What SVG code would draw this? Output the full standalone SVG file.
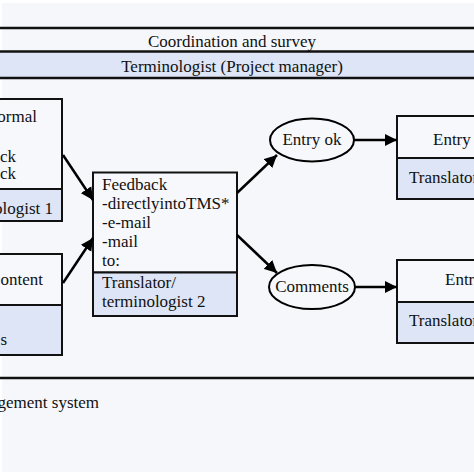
<svg xmlns="http://www.w3.org/2000/svg" width="474" height="474" viewBox="0 0 474 474">
<defs>
<style>
text{font-family:"Liberation Serif","DejaVu Serif",serif;font-size:17px;fill:#111}
.box{fill:#f7f8fc;stroke:#111;stroke-width:2}
.role{fill:#dde5f6;stroke:#111;stroke-width:2}
.band{stroke:#111;stroke-width:2.5}
.conn{stroke:#000;stroke-width:2.5;fill:none;marker-end:url(#ah)}
.ell{fill:#f7f8fc;stroke:#000;stroke-width:2}
</style>
<marker id="ah" viewBox="0 0 10 10" refX="10" refY="5" markerWidth="5" markerHeight="5" orient="auto" markerUnits="strokeWidth">
<path d="M0,0 L10,5 L0,10 z" fill="#000"/>
</marker>
</defs>
<rect x="0" y="0" width="474" height="474" fill="#ffffff"/>
<rect x="2" y="3" width="472" height="469" fill="#f6f7fb"/>
<g id="bands">
<rect x="0" y="52" width="474" height="26" fill="#dde5f6"/>
<line class="band" x1="0" y1="28" x2="474" y2="28"/>
<line class="band" x1="0" y1="51.5" x2="474" y2="51.5"/>
<line class="band" x1="0" y1="78" x2="474" y2="78"/>
<line class="band" x1="0" y1="378" x2="474" y2="378"/>
<text x="232" y="47" text-anchor="middle">Coordination and survey</text>
<text x="232" y="72" text-anchor="middle">Terminologist (Project manager)</text>
<text x="99" y="408" text-anchor="end">gement system</text>
</g>
<g id="left-top">
<rect class="box" x="-10" y="99" width="72" height="90"/>
<rect class="role" x="-10" y="189" width="72" height="32"/>
<text x="37" y="122" text-anchor="end">ormal</text>
<text x="16" y="162" text-anchor="end">ck</text>
<text x="16" y="179" text-anchor="end">ck</text>
<text x="53" y="214" text-anchor="end">ologist 1</text>
</g>
<g id="left-bottom">
<rect class="box" x="-10" y="254" width="72" height="51"/>
<rect class="role" x="-10" y="305" width="72" height="50"/>
<text x="43" y="285" text-anchor="end">ontent</text>
<text x="7" y="345" text-anchor="end">s</text>
</g>
<g id="feedback">
<rect class="box" x="93" y="172.5" width="144" height="100"/>
<rect class="role" x="93" y="272.5" width="144" height="43.5"/>
<text x="102" y="190">Feedback</text>
<text x="102" y="209">-directlyintoTMS*</text>
<text x="102" y="228">-e-mail</text>
<text x="102" y="247">-mail</text>
<text x="102" y="266">to:</text>
<text x="102" y="288">Translator/</text>
<text x="102" y="307">terminologist 2</text>
</g>
<g id="entry-ok">
<ellipse class="ell" cx="312" cy="140" rx="42" ry="21.5"/>
<text x="312" y="145" text-anchor="middle">Entry ok</text>
</g>
<g id="comments">
<ellipse class="ell" cx="312" cy="287" rx="43" ry="22"/>
<text x="312" y="292" text-anchor="middle">Comments</text>
</g>
<g id="right-top">
<rect class="box" x="397" y="116" width="90" height="42"/>
<rect class="role" x="397" y="158" width="90" height="41"/>
<text x="433" y="145">Entry</text>
<text x="409" y="183">Translator</text>
</g>
<g id="right-bottom">
<rect class="box" x="397" y="260" width="90" height="42"/>
<rect class="role" x="397" y="302" width="90" height="41"/>
<text x="445" y="285">Entry</text>
<text x="409" y="326">Translator</text>
</g>
<g id="connectors">
<line class="conn" x1="63" y1="155" x2="93" y2="200"/>
<line class="conn" x1="63" y1="283" x2="93" y2="238"/>
<line class="conn" x1="237" y1="193" x2="277" y2="155"/>
<line class="conn" x1="237" y1="235" x2="277" y2="273"/>
<line class="conn" x1="354" y1="140" x2="397" y2="140"/>
<line class="conn" x1="355" y1="287" x2="397" y2="287"/>
</g>
</svg>
